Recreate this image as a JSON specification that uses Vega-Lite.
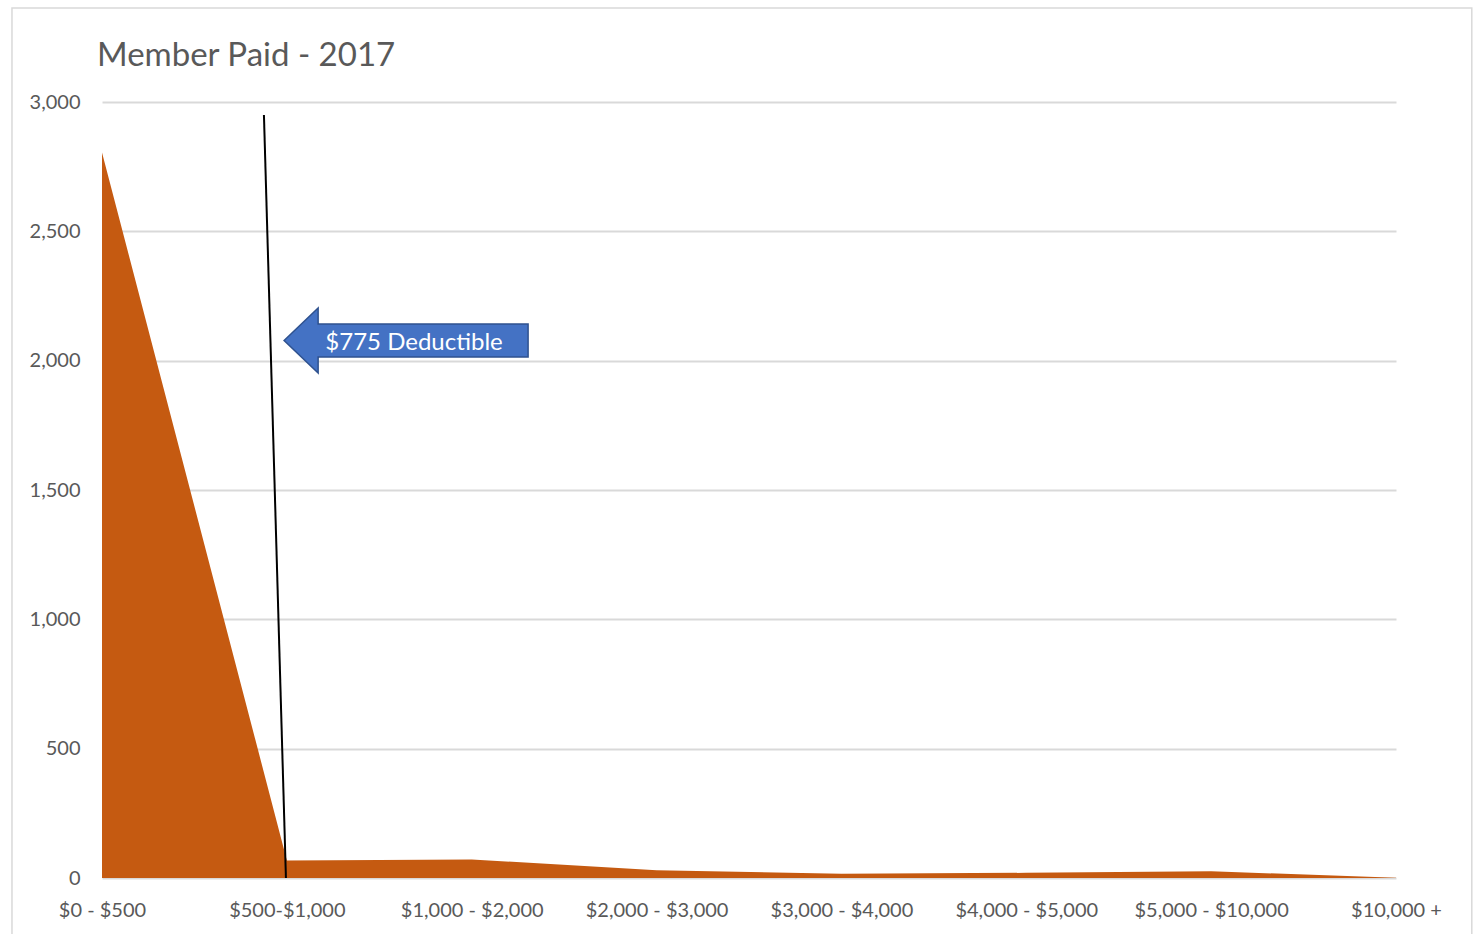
{
  "$schema": "https://vega.github.io/schema/vega-lite/v6.json",
  "width": 1294,
  "height": 776,
  "autosize": {"type": "none"},
  "padding": {"left": 102, "top": 102, "right": 79, "bottom": 56},
  "background": "#ffffff",
  "config": {
    "view": {"stroke": null},
    "font": "Lato",
    "title": {"font": "Lato", "fontSize": 33, "fontWeight": "normal", "color": "#595959", "anchor": "start", "frame": "group", "baseline": "alphabetic", "offset": -66, "dx": -5},
    "axis": {"labelFont": "Lato", "labelColor": "#595959", "labelFontSize": 20, "title": null}
  },
  "title": "Member Paid - 2017",
  "datasets": {
    "paid": [
      {"idx": 0, "bucket": "$0 - $500", "members": 2805},
      {"idx": 1, "bucket": "$500-$1,000", "members": 68},
      {"idx": 2, "bucket": "$1,000 - $2,000", "members": 72},
      {"idx": 3, "bucket": "$2,000 - $3,000", "members": 30},
      {"idx": 4, "bucket": "$3,000 - $4,000", "members": 16},
      {"idx": 5, "bucket": "$4,000 - $5,000", "members": 20},
      {"idx": 6, "bucket": "$5,000 - $10,000", "members": 26},
      {"idx": 7, "bucket": "$10,000 +", "members": 1}
    ],
    "deductibleLine": [
      {"x_top": 0.876, "x_bottom": 0.995, "y_top": 2950, "y_bottom": 0}
    ],
    "callout": [
      {"x": 1.645, "y": 2078, "label": "$775 Deductible", "tx": 1.688, "ty": 2068}
    ],
    "frame": [
      {"x0": -0.487, "x1": 7.41, "y0": -260, "y1": 3363}
    ]
  },
  "layer": [
    {
      "data": {"name": "frame"},
      "mark": {"type": "rect", "fill": null, "stroke": "#D9D9D9", "strokeWidth": 1.5},
      "encoding": {
        "x": {"field": "x0", "type": "quantitative"},
        "x2": {"field": "x1"},
        "y": {"field": "y0", "type": "quantitative"},
        "y2": {"field": "y1"}
      }
    },
    {
      "data": {"name": "paid"},
      "mark": {"type": "area", "color": "#C55A11", "interpolate": "linear"},
      "encoding": {
        "x": {
          "field": "idx", "type": "quantitative",
          "scale": {"domain": [0, 7], "nice": false, "zero": false},
          "axis": {
            "values": [0, 1, 2, 3, 4, 5, 6, 7],
            "labelExpr": "['$0 - $500','$500-$1,000','$1,000 - $2,000','$2,000 - $3,000','$3,000 - $4,000','$4,000 - $5,000','$5,000 - $10,000','$10,000 +'][datum.value]",
            "grid": false, "domain": false, "ticks": false, "labelPadding": 22,
            "labelFlush": false, "labelOverlap": false
          }
        },
        "y": {
          "field": "members", "type": "quantitative",
          "scale": {"domain": [0, 3000], "nice": false},
          "axis": {
            "values": [0, 500, 1000, 1500, 2000, 2500, 3000],
            "format": ",.0f", "grid": true, "gridColor": "#D9D9D9", "gridWidth": 2,
            "domain": false, "ticks": false, "labelPadding": 22
          }
        }
      }
    },
    {
      "data": {"name": "deductibleLine"},
      "mark": {"type": "rule", "color": "#000000", "strokeWidth": 2},
      "encoding": {
        "x": {"field": "x_top", "type": "quantitative"},
        "x2": {"field": "x_bottom"},
        "y": {"field": "y_top", "type": "quantitative"},
        "y2": {"field": "y_bottom"}
      }
    },
    {
      "data": {"name": "callout"},
      "mark": {
        "type": "point", "filled": true, "fill": "#4472C4", "stroke": "#2F528F", "strokeWidth": 1.5, "opacity": 1,
        "size": 59536,
        "shape": "M-1,0 L-0.721,-0.266 L-0.721,-0.135 L1,-0.135 L1,0.135 L-0.721,0.135 L-0.721,0.266 Z"
      },
      "encoding": {
        "x": {"field": "x", "type": "quantitative"},
        "y": {"field": "y", "type": "quantitative"}
      }
    },
    {
      "data": {"name": "callout"},
      "mark": {"type": "text", "color": "#ffffff", "fontSize": 24, "font": "Lato", "align": "center", "baseline": "middle"},
      "encoding": {
        "x": {"field": "tx", "type": "quantitative"},
        "y": {"field": "ty", "type": "quantitative"},
        "text": {"field": "label"}
      }
    }
  ]
}
